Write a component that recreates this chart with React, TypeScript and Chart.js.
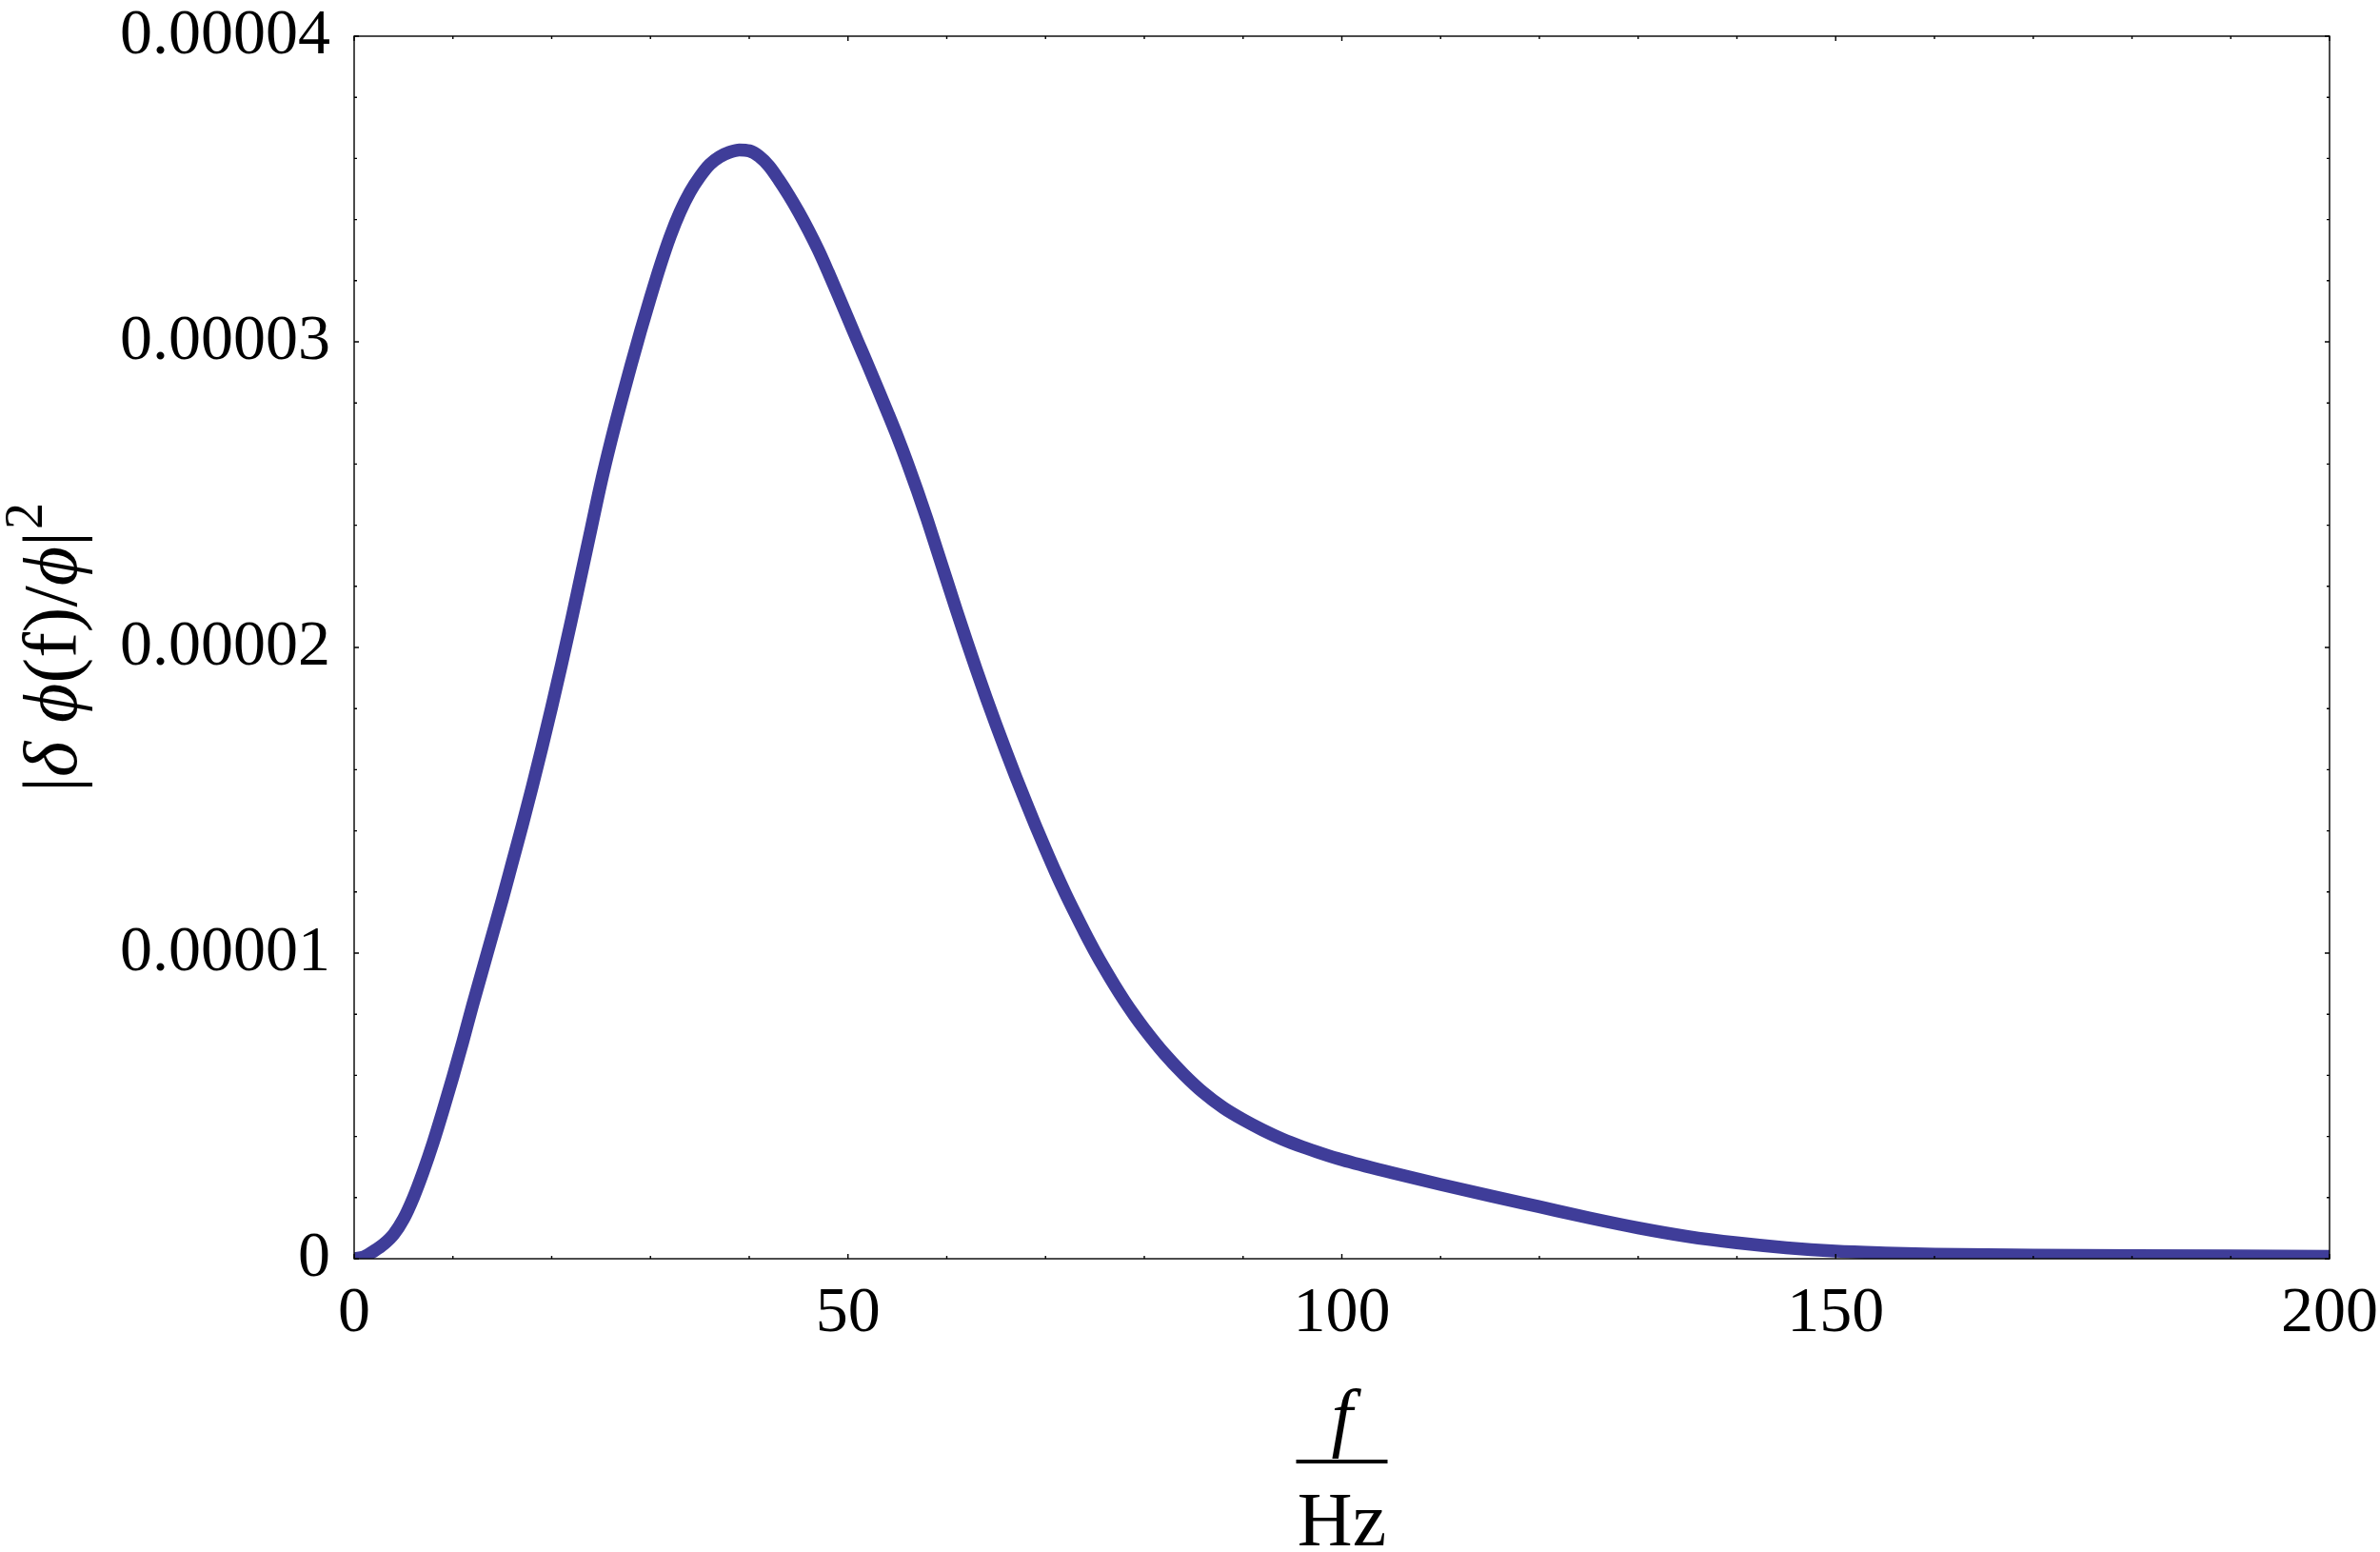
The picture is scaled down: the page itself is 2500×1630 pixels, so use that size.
import React, { useEffect, useRef } from 'react';
import { Chart, registerables } from 'chart.js';

Chart.register(...registerables);

// ---- data ----
const freqHz: number[] = [
  0, 1, 2, 3, 4, 5, 6, 7, 8, 9, 10, 11, 12, 13, 14, 15, 16, 17, 18, 19, 20,
  21, 22, 23, 24, 25, 26, 27, 28, 29, 30, 31, 32, 33, 34, 35, 36, 37, 38, 39, 40,
  41, 42, 43, 44, 45, 46, 47, 48, 49, 50, 51, 52, 53, 54, 55, 56, 57, 58, 59, 60,
  61, 62, 63, 64, 65, 66, 67, 68, 69, 70, 71, 72, 73, 74, 75, 76, 77, 78, 79, 80,
  82, 84, 86, 88, 90, 92, 94, 96, 98, 100,
  105, 110, 115, 120, 125, 130, 135, 140, 145, 150, 155, 160, 170, 180, 190, 200,
];

const spectrum: number[] = [
  0, 0.006e-5, 0.025e-5, 0.048e-5, 0.08e-5, 0.13e-5, 0.2e-5, 0.285e-5, 0.38e-5, 0.485e-5, 0.595e-5,
  0.71e-5, 0.83e-5, 0.945e-5, 1.06e-5, 1.175e-5, 1.295e-5, 1.415e-5, 1.54e-5, 1.67e-5, 1.805e-5,
  1.945e-5, 2.09e-5, 2.24e-5, 2.39e-5, 2.54e-5, 2.675e-5, 2.8e-5, 2.92e-5, 3.035e-5, 3.145e-5,
  3.25e-5, 3.345e-5, 3.425e-5, 3.49e-5, 3.54e-5, 3.58e-5, 3.605e-5, 3.62e-5, 3.628e-5, 3.625e-5,
  3.607e-5, 3.575e-5, 3.53e-5, 3.48e-5, 3.425e-5, 3.365e-5, 3.3e-5, 3.228e-5, 3.153e-5, 3.077e-5,
  3.0e-5, 2.925e-5, 2.848e-5, 2.77e-5, 2.69e-5, 2.605e-5, 2.515e-5, 2.42e-5, 2.32e-5, 2.22e-5,
  2.12e-5, 2.022e-5, 1.927e-5, 1.835e-5, 1.746e-5, 1.66e-5, 1.576e-5, 1.495e-5, 1.416e-5, 1.34e-5,
  1.266e-5, 1.196e-5, 1.13e-5, 1.066e-5, 1.005e-5, 0.948e-5, 0.894e-5, 0.843e-5, 0.796e-5, 0.752e-5,
  0.672e-5, 0.603e-5, 0.543e-5, 0.494e-5, 0.455e-5, 0.421e-5, 0.391e-5, 0.366e-5, 0.344e-5, 0.324e-5,
  0.282e-5, 0.243e-5, 0.206e-5, 0.17e-5, 0.134e-5, 0.101e-5, 0.073e-5, 0.052e-5, 0.036e-5, 0.025e-5,
  0.019e-5, 0.015e-5, 0.012e-5, 0.01e-5, 0.009e-5, 0.008e-5,
];

const xTickValues: number[] = [0, 50, 100, 150, 200];
const xTickLabels: string[] = ['0', '50', '100', '150', '200'];
const yTickValues: number[] = [0, 0.00001, 0.00002, 0.00003, 0.00004];
const yTickLabels: string[] = ['0', '0.00001', '0.00002', '0.00003', '0.00004'];
const xMinorStep = 10;
const yMinorStep = 0.000002;

const LINE_COLOR = '#3f3d99';
const SERIF = "'Liberation Serif', 'Times New Roman', serif";

const framePlugin = {
  id: 'mmaFrame',
  afterDraw(chart: any) {
    const { ctx, chartArea: a, scales } = chart;
    const xs = scales.x;
    const ys = scales.y;
    ctx.save();
    ctx.strokeStyle = '#000';
    ctx.lineWidth = 1.4;
    ctx.strokeRect(a.left, a.top, a.right - a.left, a.bottom - a.top);

    const majorLen = 5;
    const minorLen = 3;
    ctx.beginPath();
    const xMin = xs.min, xMax = xs.max;
    const nX = Math.round((xMax - xMin) / xMinorStep);
    for (let i = 0; i <= nX; i++) {
      const v = xMin + i * xMinorStep;
      const px = xs.getPixelForValue(v);
      const major = xTickValues.some((t) => Math.abs(t - v) < 1e-9);
      const len = major ? majorLen : minorLen;
      ctx.moveTo(px, a.bottom);
      ctx.lineTo(px, a.bottom - len);
      ctx.moveTo(px, a.top);
      ctx.lineTo(px, a.top + len);
    }
    const yMin = ys.min, yMax = ys.max;
    const nY = Math.round((yMax - yMin) / yMinorStep);
    for (let i = 0; i <= nY; i++) {
      const v = yMin + i * yMinorStep;
      const py = ys.getPixelForValue(v);
      const major = yTickValues.some((t) => Math.abs(t - v) < 1e-12);
      const len = major ? majorLen : minorLen;
      ctx.moveTo(a.left, py);
      ctx.lineTo(a.left + len, py);
      ctx.moveTo(a.right, py);
      ctx.lineTo(a.right - len, py);
    }
    ctx.stroke();

    // x-axis title: f / Hz as a fraction
    const cx = (a.left + a.right) / 2;
    ctx.fillStyle = '#000';
    ctx.textAlign = 'center';
    ctx.textBaseline = 'alphabetic';
    ctx.font = `italic 80px ${SERIF}`;
    ctx.fillText('f', cx, 1515);
    ctx.fillRect(cx - 48, 1533, 96, 4);
    ctx.font = `80px ${SERIF}`;
    ctx.fillText('Hz', cx, 1623);

    // y-axis title: |δ ϕ(f)/ϕ|^2, rotated
    const parts: { t: string; it: boolean }[] = [
      { t: '|', it: false },
      { t: 'δ', it: true },
      { t: ' ', it: false },
      { t: 'ϕ', it: true },
      { t: '(f)/', it: false },
      { t: 'ϕ', it: true },
      { t: '|', it: false },
    ];
    const mainSize = 80;
    const supSize = 56;
    let total = 0;
    const widths: number[] = [];
    for (const p of parts) {
      ctx.font = `${p.it ? 'italic ' : ''}${mainSize}px ${SERIF}`;
      const w = ctx.measureText(p.t).width;
      widths.push(w);
      total += w;
    }
    ctx.font = `${supSize}px ${SERIF}`;
    const supW = ctx.measureText('2').width;
    total += supW + 2;
    const cy = (a.top + a.bottom) / 2;
    ctx.translate(80, cy);
    ctx.rotate(-Math.PI / 2);
    ctx.textAlign = 'left';
    let xpos = -total / 2;
    parts.forEach((p, i) => {
      ctx.font = `${p.it ? 'italic ' : ''}${mainSize}px ${SERIF}`;
      ctx.fillText(p.t, xpos, 0);
      xpos += widths[i];
    });
    ctx.font = `${supSize}px ${SERIF}`;
    ctx.fillText('2', xpos + 2, -36);
    ctx.restore();
  },
};

function zeroPadding(scale: any) {
  scale.paddingLeft = 0;
  scale.paddingRight = 0;
  scale.paddingTop = 0;
  scale.paddingBottom = 0;
}

export default function App() {
  const canvasRef = useRef<HTMLCanvasElement | null>(null);

  useEffect(() => {
    const canvas = canvasRef.current;
    if (!canvas) return;
    const points = freqHz.map((f, i) => ({ x: f, y: spectrum[i] }));
    const chart = new Chart(canvas, {
      type: 'line',
      data: {
        datasets: [
          {
            data: points,
            borderColor: LINE_COLOR,
            backgroundColor: LINE_COLOR,
            borderWidth: 13.5,
            pointRadius: 0,
            fill: false,
            cubicInterpolationMode: 'monotone',
            clip: 0,
            borderJoinStyle: 'round',
          } as any,
        ],
      },
      options: {
        animation: false,
        responsive: false,
        maintainAspectRatio: false,
        events: [],
        layout: { padding: { left: 0, right: 53, top: 38, bottom: 0 } },
        plugins: { legend: { display: false }, tooltip: { enabled: false }, title: { display: false } },
        scales: {
          x: {
            type: 'linear',
            min: 0,
            max: 200,
            grid: { display: false, drawTicks: false },
            border: { display: false },
            afterBuildTicks: (scale: any) => {
              scale.ticks = xTickValues.map((v) => ({ value: v }));
            },
            afterFit: (scale: any) => {
              scale.height = 308;
              zeroPadding(scale);
            },
            ticks: {
              padding: 24,
              color: '#000',
              maxRotation: 0,
              autoSkip: false,
              font: { family: SERIF, size: 68, lineHeight: 1 },
              callback: (value: any) => {
                const idx = xTickValues.indexOf(Number(value));
                return idx >= 0 ? xTickLabels[idx] : '';
              },
            },
          },
          y: {
            type: 'linear',
            min: 0,
            max: 0.00004,
            grid: { display: false, drawTicks: false },
            border: { display: false },
            afterBuildTicks: (scale: any) => {
              scale.ticks = yTickValues.map((v) => ({ value: v }));
            },
            afterFit: (scale: any) => {
              scale.width = 372;
              zeroPadding(scale);
            },
            ticks: {
              padding: 25,
              color: '#000',
              autoSkip: false,
              font: { family: SERIF, size: 68, lineHeight: 1 },
              callback: (value: any) => {
                const idx = yTickValues.findIndex((t) => Math.abs(t - Number(value)) < 1e-12);
                return idx >= 0 ? yTickLabels[idx] : '';
              },
            },
          },
        },
      },
      plugins: [framePlugin],
    });
    return () => {
      chart.destroy();
    };
  }, []);

  return (
    <div style={{ position: 'absolute', left: 0, top: 0, width: 2500, height: 1630, background: '#fff' }}>
      <canvas ref={canvasRef} width={2500} height={1630} style={{ width: 2500, height: 1630, display: 'block' }} />
    </div>
  );
}
